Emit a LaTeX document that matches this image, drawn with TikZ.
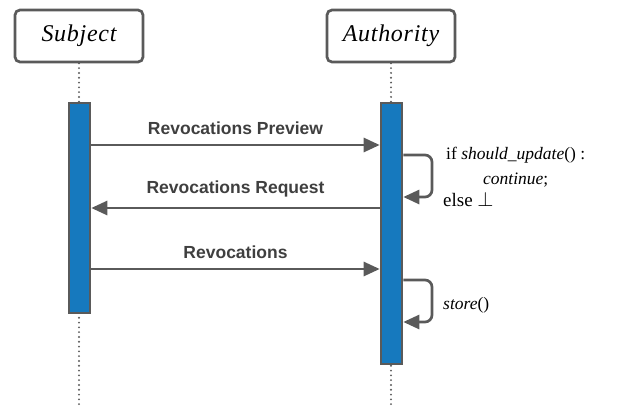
\documentclass[tikz,border=0pt]{standalone}
\usepackage{fontspec}
\setmainfont{Liberation Serif}
\newfontfamily\labelsans{Liberation Sans}
\usetikzlibrary{arrows.meta}
\definecolor{linegray}{HTML}{5A5A5A}
\definecolor{barblue}{HTML}{1679BE}
\tikzset{
  actor/.style={draw=linegray, line width=2.7pt, rounded corners=5pt, fill=white,
    minimum width=128pt, minimum height=52pt, inner sep=0pt,
    font=\fontsize{24}{28}\selectfont\itshape\addfontfeatures{LetterSpace=3}},
  lifeline/.style={draw=linegray, line width=2.1pt, line cap=round, dash pattern=on 0pt off 4.8pt},
  activation/.style={draw=linegray, line width=2.6pt, fill=barblue, minimum width=21pt, inner sep=0pt},
  msg/.style={draw=linegray, line width=2.7pt, -{Triangle[length=16pt,width=14pt]}},
  msglabel/.style={font=\labelsans\bfseries\fontsize{17.5}{20}\selectfont, text=linegray!70!black},
  note/.style={font=\fontsize{17.5}{20}\selectfont, text=black, inner sep=0pt}
}
\begin{document}
\begin{tikzpicture}[x=1pt, y=-1pt]
\useasboundingbox (0,0) rectangle (627,407);

% participants
\node[actor] (subj) at (79,36) {Subject};
\node[actor] (auth) at (391,36) {Authority};

% lifelines
\coordinate (subjend) at (79,407);
\coordinate (authend) at (391,407);
\draw[lifeline] (subj.south) -- (subjend);
\draw[lifeline] (auth.south) -- (authend);

% activation bars
\node[activation, minimum height=210pt] (sbar) at (79.5,208) {};
\node[activation, minimum height=261pt] (abar) at (391.5,233.5) {};

% messages
\draw[msg] (sbar.east |- 0,145) -- node[msglabel, above=6pt] {Revocations Preview} (abar.west |- 0,145);
\draw[msg] (abar.west |- 0,208) -- node[msglabel, above=6pt] {Revocations Request} (sbar.east |- 0,208);
\draw[msg] (sbar.east |- 0,269) -- node[msglabel, above=6pt] {Revocations} (abar.west |- 0,269);

% self calls on the authority
\coordinate (loopa) at (432,155);
\coordinate (loopb) at (432,197);
\draw[msg, rounded corners=7pt] (abar.east |- loopa) -- (loopa) -- (loopb) -- (abar.east |- loopb);
\coordinate (loopc) at (432,280);
\coordinate (loopd) at (432,322);
\draw[msg, rounded corners=7pt] (abar.east |- loopc) -- (loopc) -- (loopd) -- (abar.east |- loopd);

% annotations
\node[note, anchor=base west] (cond1) at (446,159) {if \textit{should\_update}() :};
\node[note, anchor=base] (cond2) at (cond1.base |- 0,184) {\textit{continue};};
\node[note, anchor=base west, font=\fontsize{19}{22}\selectfont] (cond3) at (443,206) {else \scalebox{1.2}{$\perp$}};
\node[note, anchor=base west] (storecall) at (443,309) {\textit{store}()};
\end{tikzpicture}
\end{document}
